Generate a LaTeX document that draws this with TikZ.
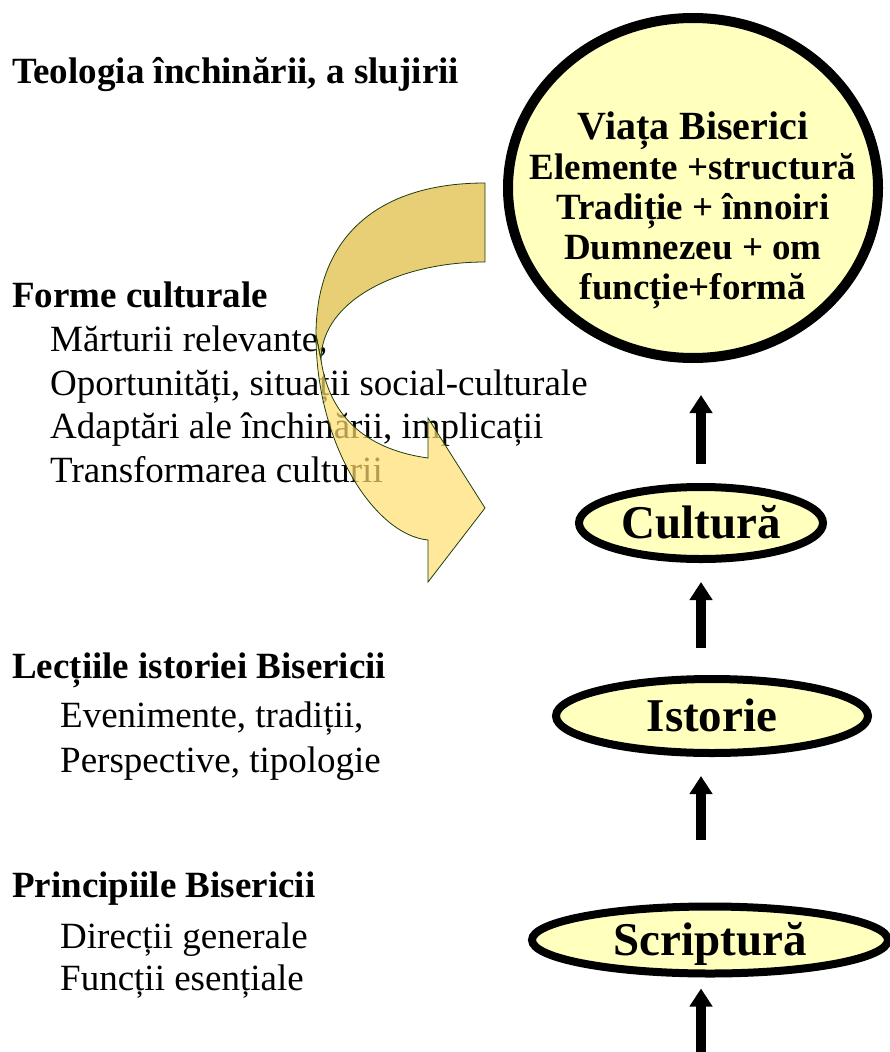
\documentclass[tikz,border=0pt]{standalone}
\usepackage{fontspec}
\setmainfont{Liberation Serif}
\usetikzlibrary{arrows.meta}
\usetikzlibrary{shapes.geometric}

\definecolor{paleyellow}{RGB}{255,255,190}
\definecolor{goldback}{RGB}{222,186,58}
\definecolor{goldfront}{RGB}{255,222,110}
\definecolor{bandline}{RGB}{30,60,15}

\begin{document}
\begin{tikzpicture}[x=1pt,y=-1pt,
                    uparrow/.style={draw=black,line width=10pt,-{Triangle[width=22pt,length=18pt]}},
                    head/.style={anchor=base west,inner sep=0pt,font=\bfseries\fontsize{37}{44}\selectfont},
                    item/.style={anchor=base west,inner sep=0pt,align=left,font=\fontsize{37}{44}\selectfont},
                    level/.style={ellipse,draw=black,line width=8pt,fill=paleyellow,inner sep=0pt,
                                  text height=31pt,text depth=0pt,font=\bfseries\fontsize{47}{47}\selectfont}]
	\tikzstyle{band}=[draw=bandline,thick,fill opacity=.7]
	\useasboundingbox (0,0) rectangle (889,1052);

	% coloana din dreapta
	\node[ellipse,draw=black,line width=10pt,fill=paleyellow,minimum width=370pt,minimum height=340pt] (viata) at (693,188) {};
	\node[anchor=north,inner sep=0pt,align=center,font=\bfseries\fontsize{37}{40}\selectfont] (viatatext) at (693,112)
		{{\fontsize{40}{40}\selectfont Viața Biserici}\\Elemente +structură\\Tradiție + înnoiri\\Dumnezeu + om\\funcție+formă};
	\node[level,minimum width=244pt,minimum height=72pt] (cultura)   at (701,523) {Cultură};
	\node[level,minimum width=312pt,minimum height=74pt] (istorie)   at (712,716) {Istorie};
	\node[level,minimum width=356pt,minimum height=67pt] (scriptura) at (710,940) {Scriptură};
	\coordinate (jos) at (701,1052);

	\draw[uparrow,shorten <=19pt,shorten >=32pt] (cultura.north) -- (cultura.north |- viata.south);
	\draw[uparrow,shorten <=27pt,shorten >=19pt] (istorie.north -| cultura.south) -- (cultura.south);
	\draw[uparrow,shorten <=63pt,shorten >=19pt] (scriptura.north -| cultura.south) -- (istorie.south -| cultura.south);
	\draw[uparrow,shorten >=11pt] (jos) -- (scriptura.south -| jos);

	% textele din stanga (ancora = linia de baza a ultimului rand)
	\node[head] (teologia) at (12,83) {Teologia închinării, a slujirii};
	\node[head] (forme) at (12,307) {Forme culturale};
	\node[item,font=\fontsize{37}{43.5}\selectfont] (formeitem) at (50,482) {Mărturii relevante,\\Oportunități, situații social-culturale\\Adaptări ale închinării, implicații\\Transformarea culturii};
	\node[head] (lectii) at (12,678) {Lecțiile istoriei Bisericii};
	\node[item,font=\fontsize{37}{45}\selectfont] (lectiiitem) at (60,772) {Evenimente, tradiții,\\Perspective, tipologie};
	\node[head] (principii) at (12,897) {Principiile Bisericii};
	\node[item,font=\fontsize{37}{42}\selectfont] (principiiitem) at (60,990) {Direcții generale\\Funcții esențiale};

	% sageata curbata
	\filldraw[band,fill=goldback] (485,183) .. controls (380,183) and (316,235) .. (316,335)
		-- (321,360) .. controls (321,300) and (400,262) .. (485,262) -- cycle;
	\filldraw[band,fill=goldfront] (316,335) .. controls (316,445) and (375,535) .. (428,540)
		-- (428,582) -- (485,508) -- (428,418) -- (428,458)
		.. controls (370,450) and (330,420) .. (321,360) -- cycle;
\end{tikzpicture}
\end{document}
